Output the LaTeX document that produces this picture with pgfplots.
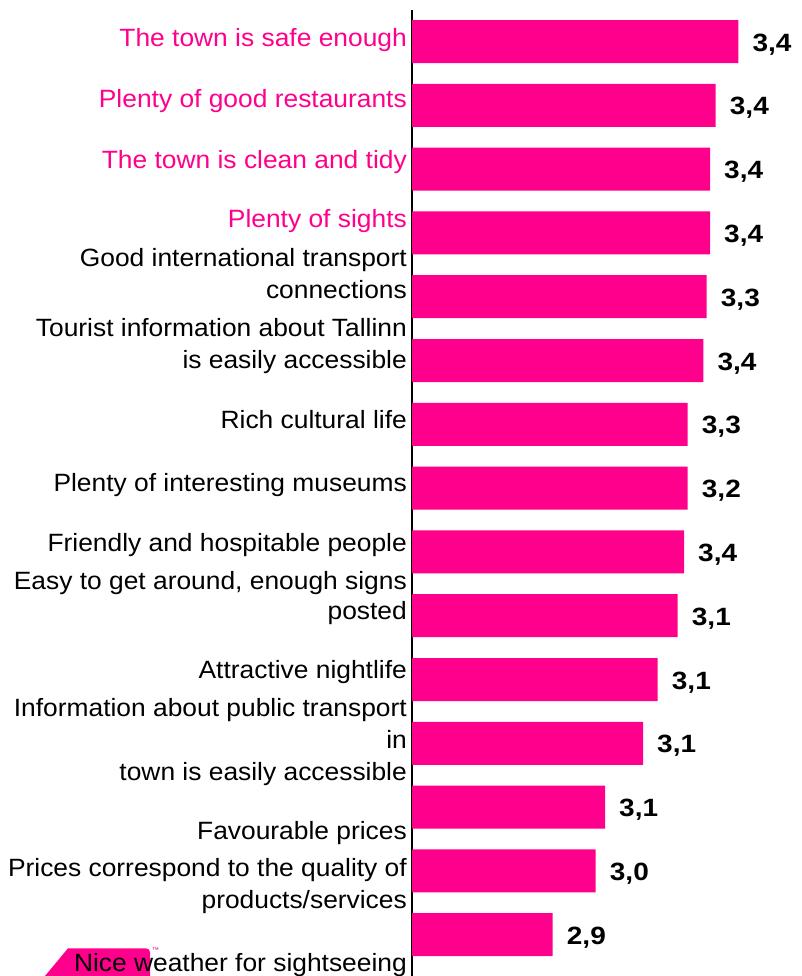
\documentclass[border=0pt]{standalone}
\usepackage{fontspec}
\setmainfont{Liberation Sans}
\newfontfamily\labfont[FakeStretch=1.055]{Liberation Sans}
\newfontfamily\valfont[FakeStretch=1.12]{Liberation Sans}
\usepackage{pgfplots}
\pgfplotsset{compat=1.18}
\usepackage{pgfplotstable}
\definecolor{tmag}{RGB}{255,0,140}

\pgfplotstableread{
idx val lab
1 326.3 3,4
2 303.7 3,4
3 298.0 3,4
4 298.0 3,4
5 294.7 3,3
6 291.3 3,4
7 275.7 3,3
8 275.7 3,2
9 272.0 3,4
10 265.7 3,1
11 245.7 3,1
12 231.0 3,1
13 193.0 3,1
14 183.7 3,0
15 140.7 2,9
}\datatable

\newcommand{\ylab}[3][black]{\node[anchor=base east, inner sep=0pt, text=#1, font=\labfont\fontsize{25}{29}\selectfont] at (407pt,-#2pt) {#3};}

\begin{document}
\begin{tikzpicture}
\useasboundingbox (0,0) rectangle (801pt,-976pt);
% logo fragment
\fill[tmag] (45pt,-976pt) -- (68pt,-948.3pt) [rounded corners=4pt] -- (150pt,-948.3pt) [sharp corners] -- (150pt,-976pt) -- cycle;
\node[anchor=south west, inner sep=0pt, text=tmag, font=\fontsize{7}{8}\selectfont] at (152pt,-953pt) {™};
\begin{axis}[
  at={(412pt,-10pt)}, anchor=north west,
  scale only axis, width=389pt, height=966pt,
  xmin=0, xmax=389, ymin=0.5063, ymax=15.647,
  y dir=reverse,
  xbar, bar width=43pt,
  hide x axis,
  axis y line=left,
  y axis line style={-, line width=1.5pt},
  ytick=\empty, xtick=\empty,
  clip=false,
  nodes near coords,
  point meta=explicit symbolic,
  nodes near coords align={anchor=base west},
  every node near coord/.append style={font=\valfont\bfseries\fontsize{25}{30}\selectfont, xshift=14pt, yshift=-9.5pt, inner sep=0pt, text=black},
]
\addplot[fill=tmag, draw=none] table[x=val, y=idx, meta=lab] {\datatable};
\end{axis}
\ylab[tmag]{46.5}{The town is safe enough}
\ylab[tmag]{108}{Plenty of good restaurants}
\ylab[tmag]{169}{The town is clean and tidy}
\ylab[tmag]{228}{Plenty of sights}
\ylab{266}{Good international transport}
\ylab{298}{connections}
\ylab{336}{Tourist information about Tallinn}
\ylab{368}{is easily accessible}
\ylab{428}{Rich cultural life}
\ylab{491}{Plenty of interesting museums}
\ylab{551}{Friendly and hospitable people}
\ylab{589.3}{Easy to get around, enough signs}
\ylab{619.3}{posted}
\ylab{678}{Attractive nightlife}
\ylab{716.7}{Information about public transport}
\ylab{748.3}{in}
\ylab{780}{town is easily accessible}
\ylab{839}{Favourable prices}
\ylab{876}{Prices correspond to the quality of}
\ylab{908}{products/services}
\ylab{971}{Nice weather for sightseeing}
\end{tikzpicture}
\end{document}
